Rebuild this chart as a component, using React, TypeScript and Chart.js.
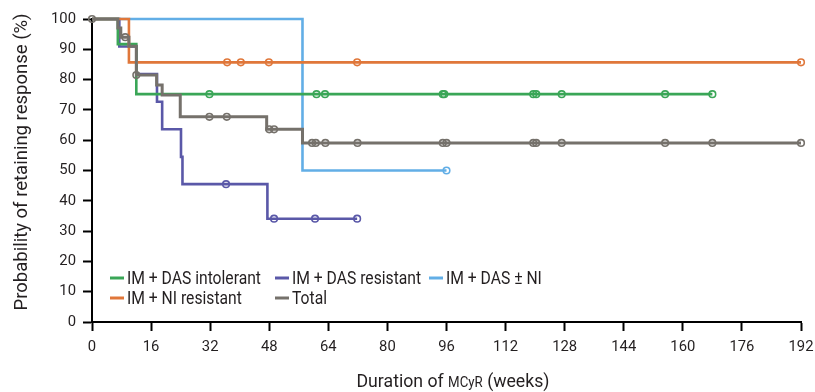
import React, { useEffect, useRef } from "react";
import { Chart, registerables } from "chart.js";

Chart.register(...registerables);

const FONT = "Roboto, 'Liberation Sans', sans-serif";
const TEXT = "#231f20";

// Series names (legend)
const seriesNames = ["IM + DAS intolerant", "IM + DAS resistant", "IM + DAS \u00b1 NI", "IM + NI resistant", "Total"];
const seriesColors = ["#3aa657", "#5a58a8", "#62aee6", "#e0773a", "#75716b"];

// Kaplan-Meier step data: times (weeks) and survival (%)
const intolerantTimes = [0, 7, 12, 168];
const intolerantValues = [100, 91.7, 75.2, 75.2];
const intolerantCensor = [31.8, 60.8, 63.1, 95, 95.4, 119.5, 120.3, 127.2, 155.2, 168];

const resistantTimes = [0, 7.4, 12, 17.6, 19, 24.1, 24.5, 47.5, 71.8];
const resistantValues = [100, 90.9, 81.8, 72.7, 63.6, 54.5, 45.5, 34.1, 34.1];
const resistantCensor = [36.3, 49.3, 60.4, 71.8];

const dasNiTimes = [0, 57, 96];
const dasNiValues = [100, 50, 50];
const dasNiCensor = [96];

const niResistantTimes = [0, 10, 192];
const niResistantValues = [100, 85.7, 85.7];
const niResistantCensor = [36.6, 40.3, 47.9, 71.8, 192];

const totalTimes = [0, 7, 7.8, 10, 12, 17.5, 19, 23.9, 47.3, 57, 192];
const totalValues = [100, 97, 94, 91, 81.5, 78.2, 74.9, 67.7, 63.6, 59.1, 59.1];
const totalCensor = [0, 9, 12, 31.8, 36.5, 48, 49.3, 59.6, 60.6, 63.2, 71.9, 95, 96, 119.5, 120.3, 127.2, 155.2, 168, 192];

// Axis ranges
const xMin = 0, xMax = 192, xStep = 16;
const yMin = 0, yMax = 100, yStep = 10;

const yTitle = "Probability of retaining response (%)";
const xTitleParts = ["Duration of ", "MCyR", " (weeks)"];

const series = [
  { times: intolerantTimes, values: intolerantValues, censor: intolerantCensor, order: 2 },
  { times: resistantTimes, values: resistantValues, censor: resistantCensor, order: 3 },
  { times: dasNiTimes, values: dasNiValues, censor: dasNiCensor, order: 4 },
  { times: niResistantTimes, values: niResistantValues, censor: niResistantCensor, order: 1 },
  { times: totalTimes, values: totalValues, censor: totalCensor, order: 0 },
];

function levelAt(times: number[], values: number[], t: number) {
  let v = values[0];
  for (let i = 0; i < times.length; i++) if (times[i] <= t) v = values[i];
  return v;
}

function measure(text: string, size: number) {
  const c = document.createElement("canvas").getContext("2d")!;
  c.font = `${size}px ${FONT}`;
  return c.measureText(text).width;
}
function fitSize(text: string, target: number) {
  return (100 * target) / measure(text, 100);
}

const overlayPlugin = {
  id: "overlay",
  afterDraw(chart: any) {
    const ctx = chart.ctx;
    ctx.save();
    ctx.fillStyle = TEXT;
    // Legend (condensed look: larger font squeezed horizontally)
    const cols = [110, 275, 429];
    const rows = [278, 298];
    const legendSize = 18;
    const legendSx = 134 / measure(seriesNames[0], legendSize);
    ctx.textBaseline = "middle";
    ctx.textAlign = "left";
    seriesNames.forEach((name, i) => {
      const x = cols[i % 3];
      const y = rows[Math.floor(i / 3)];
      ctx.strokeStyle = seriesColors[i];
      ctx.lineWidth = 3;
      ctx.beginPath();
      ctx.moveTo(x, y);
      ctx.lineTo(x + 14, y);
      ctx.stroke();
      ctx.save();
      ctx.translate(x + 17, y + 1);
      ctx.scale(legendSx, 1);
      ctx.font = `${legendSize}px ${FONT}`;
      ctx.fillText(name, 0, 0);
      ctx.restore();
    });
    // Y title
    const ySize = 19;
    const ySx = 297 / measure(yTitle, ySize);
    ctx.save();
    ctx.translate(22, 162);
    ctx.rotate(-Math.PI / 2);
    ctx.scale(ySx, 1);
    ctx.textAlign = "center";
    ctx.textBaseline = "middle";
    ctx.font = `${ySize}px ${FONT}`;
    ctx.fillText(yTitle, 0, 0);
    ctx.restore();
    // X title (mixed sizes)
    const ratios = [1, 0.75, 1];
    const xSize = 18.5;
    let natural = 0;
    const widths = xTitleParts.map((p, i) => {
      const w = measure(p, xSize * ratios[i]);
      natural += w;
      return w;
    });
    const xSx = 193 / natural;
    ctx.save();
    ctx.translate(453 - 193 / 2, 387);
    ctx.scale(xSx, 1);
    ctx.textAlign = "left";
    ctx.textBaseline = "alphabetic";
    let x = 0;
    xTitleParts.forEach((p, i) => {
      ctx.font = `${xSize * ratios[i]}px ${FONT}`;
      ctx.fillText(p, x, 0);
      x += widths[i];
    });
    ctx.restore();
    ctx.restore();
  },
};

export default function App() {
  const ref = useRef<HTMLCanvasElement>(null);
  useEffect(() => {
    document.body.style.margin = "0";
    const tickSize = fitSize("100", 25);
    const datasets: any[] = [];
    series.forEach((s, i) => {
      datasets.push({
        label: seriesNames[i],
        data: s.times.map((t, j) => ({ x: t, y: s.values[j] })),
        borderColor: seriesColors[i],
        backgroundColor: seriesColors[i],
        borderWidth: i === 4 ? 3 : 2.6,
        stepped: "before",
        pointRadius: 0,
        fill: false,
        clip: false,
        order: s.order + 10,
      });
      datasets.push({
        label: seriesNames[i] + " censored",
        type: "scatter",
        data: s.censor.map((t) => ({ x: t, y: levelAt(s.times, s.values, t) })),
        borderColor: seriesColors[i],
        backgroundColor: "rgba(255,255,255,0)",
        pointRadius: 3.3,
        pointBorderWidth: 1.6,
        showLine: false,
        clip: false,
        order: s.order,
      });
    });
    const chart = new Chart(ref.current!, {
      type: "line",
      data: { datasets },
      options: {
        animation: false,
        responsive: false,
        devicePixelRatio: 1,
        layout: { padding: { top: 19, right: 14, left: 0, bottom: 0 } },
        plugins: { legend: { display: false }, tooltip: { enabled: false } },
        scales: {
          x: {
            type: "linear",
            min: xMin,
            max: xMax,
            afterFit: (scale: any) => {
              scale.height = 70;
              scale.paddingLeft = 0;
              scale.paddingRight = 0;
            },
            ticks: { stepSize: xStep, color: TEXT, font: { family: FONT, size: tickSize }, padding: 7, maxRotation: 0, autoSkip: false },
            grid: { drawOnChartArea: false, drawTicks: true, tickLength: 9, tickWidth: 2, tickColor: "#000" },
            border: { color: "#000", width: 2 },
          },
          y: {
            type: "linear",
            min: yMin,
            max: yMax,
            afterFit: (scale: any) => {
              scale.width = 92;
              scale.paddingTop = 0;
              scale.paddingBottom = 0;
            },
            ticks: { stepSize: yStep, color: TEXT, font: { family: FONT, size: tickSize }, padding: 7 },
            grid: { drawOnChartArea: false, drawTicks: true, tickLength: 9, tickWidth: 2, tickColor: "#000" },
            border: { color: "#000", width: 2 },
          },
        },
      },
      plugins: [overlayPlugin],
    } as any);
    return () => chart.destroy();
  }, []);
  return (
    <div style={{ width: 815, height: 392 }}>
      <canvas ref={ref} width={815} height={392} style={{ display: "block" }} />
    </div>
  );
}
